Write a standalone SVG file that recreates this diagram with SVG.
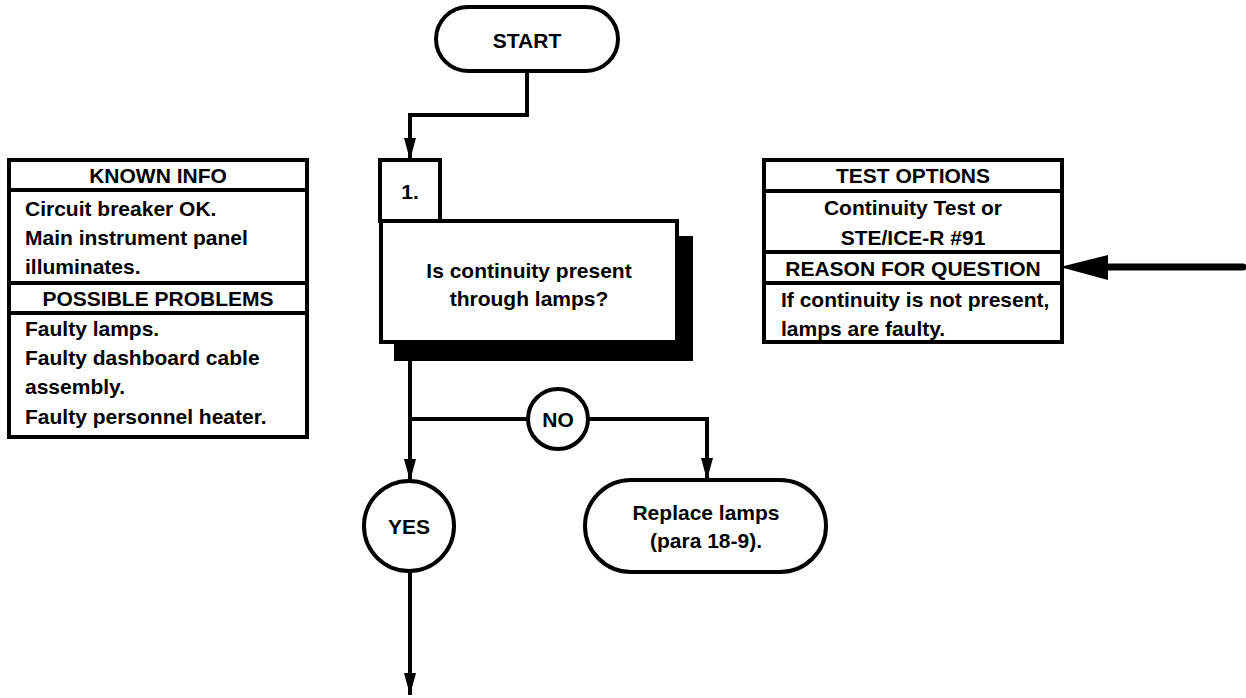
<svg xmlns="http://www.w3.org/2000/svg" width="1246" height="698" viewBox="0 0 1246 698">
<defs>
<style>
text{font-family:"Liberation Sans",Arial,sans-serif;font-weight:bold;font-size:21px;fill:#000}
.c{text-anchor:middle}
.box{fill:#fff;stroke:#000;stroke-width:4}
.ln{fill:none;stroke:#000;stroke-width:4}
</style>
<marker id="ah" markerUnits="userSpaceOnUse" viewBox="0 0 22 12" markerWidth="22" markerHeight="12" refX="22" refY="6" orient="auto">
<path d="M0,0 L22,6 L0,12 z" fill="#000"/>
</marker>
</defs>
<rect width="1246" height="698" fill="#fff"/>
<g id="known-info">
<rect class="box" x="9" y="160" width="298" height="30"/>
<rect class="box" x="9" y="190" width="298" height="93"/>
<rect class="box" x="9" y="283" width="298" height="30"/>
<rect class="box" x="9" y="313" width="298" height="124"/>
<text class="c" x="158" y="183">KNOWN INFO</text>
<text x="25" y="216">Circuit breaker OK.</text>
<text x="25" y="245">Main instrument panel</text>
<text x="25" y="274">illuminates.</text>
<text class="c" x="158" y="306">POSSIBLE PROBLEMS</text>
<text x="25" y="336">Faulty lamps.</text>
<text x="25" y="365">Faulty dashboard cable</text>
<text x="25" y="394">assembly.</text>
<text x="25" y="424">Faulty personnel heater.</text>
</g>
<g id="test-options">
<rect class="box" x="764" y="160" width="298" height="31"/>
<rect class="box" x="764" y="191" width="298" height="61"/>
<rect class="box" x="764" y="252" width="298" height="31"/>
<rect class="box" x="764" y="283" width="298" height="59"/>
<text class="c" x="913" y="183">TEST OPTIONS</text>
<text class="c" x="913" y="215">Continuity Test or</text>
<text class="c" x="913" y="245">STE/ICE-R #91</text>
<text class="c" x="913" y="276">REASON FOR QUESTION</text>
<text x="781" y="307">If continuity is not present,</text>
<text x="781" y="336">lamps are faulty.</text>
</g>
<g id="start">
<rect class="box" x="436" y="7" width="182" height="64" rx="32" ry="32"/>
<text class="c" x="527" y="48">START</text>
</g>
<g id="step1">
<rect x="394" y="236" width="299" height="125" fill="#000"/>
<rect class="box" x="380" y="160" width="60" height="61"/>
<text class="c" x="410" y="199">1.</text>
<rect class="box" x="381" y="221" width="296" height="121"/>
<text class="c" x="529" y="278">Is continuity present</text>
<text class="c" x="529" y="306">through lamps?</text>
</g>
<g id="no">
<circle class="box" cx="558" cy="419" r="30"/>
<text class="c" x="558" y="427">NO</text>
</g>
<g id="yes">
<circle class="box" cx="409" cy="526" r="45"/>
<text class="c" x="409" y="534">YES</text>
</g>
<g id="replace">
<rect class="box" x="585" y="480" width="241" height="92" rx="46" ry="46"/>
<text class="c" x="706" y="520">Replace lamps</text>
<text class="c" x="706" y="548">(para 18-9).</text>
</g>
<g id="connectors">
<path class="ln" d="M527,71 V115 H410 V160" marker-end="url(#ah)"/>
<path class="ln" d="M410,342 V481" marker-end="url(#ah)"/>
<path class="ln" d="M410,419 H528"/>
<path class="ln" d="M588,419 H707 V480" marker-end="url(#ah)"/>
<path class="ln" d="M410,571 V695" marker-end="url(#ah)"/>
<path d="M1243,267 H1100" fill="none" stroke="#000" stroke-width="7" stroke-linecap="round"/>
<polygon points="1060,267 1108,255 1108,280" fill="#000"/>
</g>
</svg>
